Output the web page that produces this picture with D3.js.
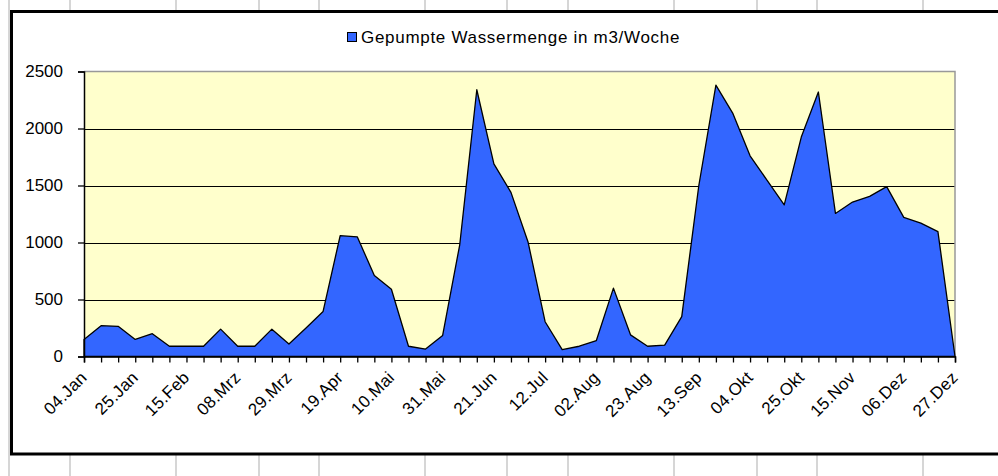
<html>
<head>
<meta charset="utf-8">
<script src="https://d3js.org/d3.v7.min.js"></script>
<style>
  body { margin: 0; background: #fff; }
  svg { display: block; font-family: "Liberation Sans", Arial, sans-serif; }
</style>
</head>
<body>
<svg id="chart"></svg>
<script>
// weekly pumped water volume, 52 weeks (04.Jan .. 27.Dez)
var values = [150, 270, 265, 150, 200, 90, 90, 90, 240, 90,
              90, 240, 110, 250, 395, 1060, 1050, 710, 590, 90,
              65, 185, 980, 2340, 1690, 1440, 1005, 305, 60, 90,
              140, 600, 190, 90, 100, 350, 1500, 2380, 2130, 1760,
              1545, 1330, 1925, 2320, 1255, 1355, 1405, 1490, 1220, 1170,
              1095, 0]
// every third week is labelled
var tickLabels = ["04.Jan", "25.Jan", "15.Feb", "08.Mrz", "29.Mrz", "19.Apr",
                  "10.Mai", "31.Mai", "21.Jun", "12.Jul", "02.Aug", "23.Aug",
                  "13.Sep", "04.Okt", "25.Okt", "15.Nov", "06.Dez", "27.Dez"]
var yTicks = [0, 500, 1000, 1500, 2000, 2500]
var seriesName = "Gepumpte Wassermenge in m3/Woche"

var width = 998, height = 476
var plotLeft = 84, plotRight = 955, plotTop = 71.5, plotBottom = 356.5

var svg = d3.select("#chart").attr("width", width).attr("height", height)

// spreadsheet cell lines behind the chart object
var sheetCols = [9, 70, 176, 259, 319, 425, 507, 568, 674, 757, 817, 923]
svg.selectAll("line.sheet").data(sheetCols).join("line")
    .attr("x1", d => d).attr("x2", d => d)
    .attr("y1", 0).attr("y2", height)
    .attr("stroke", "#d6d6d6").attr("stroke-width", 2)

// chart frame
svg.append("rect")
    .attr("x", 11.5).attr("y", 11.5)
    .attr("width", 1100).attr("height", 442.5)
    .attr("fill", "#fff").attr("stroke", "#000").attr("stroke-width", 3)

var x = d3.scaleLinear().domain([0, values.length - 1]).range([plotLeft, plotRight])
var y = d3.scaleLinear().domain([0, 2500]).range([plotBottom, plotTop])

// plot area
svg.append("rect")
    .attr("x", plotLeft).attr("y", plotTop)
    .attr("width", plotRight - plotLeft).attr("height", plotBottom - plotTop)
    .attr("fill", "#ffffcc")

svg.selectAll("line.grid").data(yTicks.filter(d => d > 0 && d < 2500)).join("line")
    .attr("x1", plotLeft).attr("x2", plotRight)
    .attr("y1", d => Math.round(y(d)) + 0.5).attr("y2", d => Math.round(y(d)) + 0.5)
    .attr("stroke", "#000").attr("stroke-width", 1.2)

// top and right border of the plot area
svg.append("path")
    .attr("d", `M${plotLeft},${plotTop}H${plotRight}V${plotBottom}`)
    .attr("fill", "none").attr("stroke", "#999").attr("stroke-width", 1.5)

var area = d3.area()
    .x((d, i) => x(i))
    .y0(y(0))
    .y1(d => y(d))

svg.append("path")
    .datum(values)
    .attr("d", area)
    .attr("fill", "#3366ff")
    .attr("stroke", "#000")
    .attr("stroke-width", 1.3)
    .attr("stroke-linejoin", "round")

// y axis
var yAxis = svg.append("g")
    .attr("transform", `translate(${plotLeft},0)`)
    .call(d3.axisLeft(y).tickValues(yTicks).tickSize(6).tickPadding(15).tickFormat(d3.format("d")))
yAxis.select(".domain").attr("stroke", "#000").attr("stroke-width", 1.5)
yAxis.selectAll(".tick line").attr("stroke", "#000").attr("stroke-width", 1.3)
yAxis.selectAll(".tick text").attr("font-size", 17).attr("fill", "#000")
    .attr("font-family", "Liberation Sans, Arial, sans-serif")

// x axis: a tick on every week
var xAxis = svg.append("g")
    .attr("transform", `translate(0,${plotBottom})`)
    .call(d3.axisBottom(x).tickValues(d3.range(values.length)).tickSize(6).tickFormat(""))
xAxis.select(".domain").attr("stroke", "#000").attr("stroke-width", 1.5)
xAxis.selectAll(".tick line").attr("stroke", "#000").attr("stroke-width", 1.3)

svg.selectAll("text.xlab").data(tickLabels).join("text")
    .attr("class", "xlab")
    .attr("transform", (d, i) => `translate(${x(i * 3) + 4},${plotBottom + 22}) rotate(-45)`)
    .attr("text-anchor", "end")
    .attr("font-size", 17)
    .attr("letter-spacing", 0.3)
    .attr("fill", "#000")
    .text(d => d)

// legend
var legend = svg.append("g")
legend.append("rect")
    .attr("x", 347.5).attr("y", 32.5).attr("width", 9).attr("height", 9)
    .attr("fill", "#3366ff").attr("stroke", "#000").attr("stroke-width", 1)
legend.append("text")
    .attr("x", 361).attr("y", 43)
    .attr("font-size", 17)
    .attr("letter-spacing", 0.7)
    .attr("fill", "#000")
    .text(seriesName)
</script>
</body>
</html>
